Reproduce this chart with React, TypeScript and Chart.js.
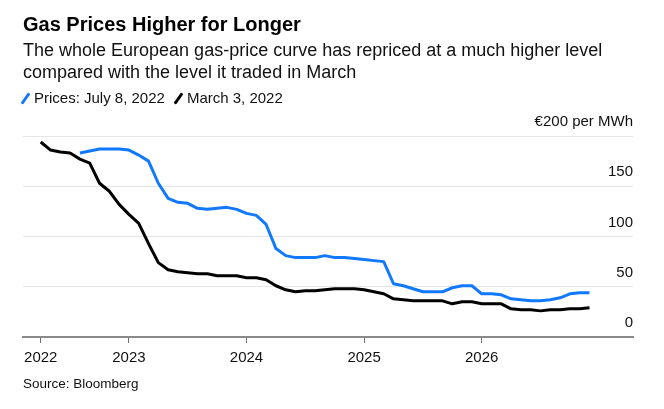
import React, { useEffect, useRef } from "react";
import { Chart, registerables } from "chart.js";

Chart.register(...registerables);

const FONT = "'Liberation Sans', Arial, Helvetica, sans-serif";

const TITLE = "Gas Prices Higher for Longer";
const SUBTITLE_LINES = [
  "The whole European gas-price curve has repriced at a much higher level",
  "compared with the level it traded in March",
];
const SOURCE = "Source: Bloomberg";

const JULY_LABEL = "Prices: July 8, 2022";
const MARCH_LABEL = "March 3, 2022";
const JULY_COLOR = "#1179ff";
const MARCH_COLOR = "#000000";

// Contract months (first month of each curve)
const MARCH_FIRST_MONTH = "2022-04";
const JULY_FIRST_MONTH = "2022-08";

// €/MWh, monthly
const MARCH_VALUES = [
  194, 186, 184, 183, 177, 173, 153, 145, 132, 122, 113, 93, 74, 67, 65, 64, 63, 63, 61, 61,
  61, 59, 59, 57, 51, 47, 45, 46, 46, 47, 48, 48, 48, 47, 45, 43, 38, 37, 36, 36, 36, 36, 33,
  35, 35, 33, 33, 33, 28, 27, 27, 26, 27, 27, 28, 28, 29,
];
const JULY_VALUES = [
  183, 185, 187, 187, 187, 186, 181, 175, 153, 138, 134, 133, 128, 127, 128, 129, 127, 123, 121,
  112, 88, 81, 79, 79, 79, 81, 79, 79, 78, 77, 76, 75, 53, 51, 48, 45, 45, 45, 49, 51, 51, 43,
  43, 42, 38, 37, 36, 36, 37, 39, 43, 44, 44,
];

const X_TICK_MONTHS = ["2022-04", "2023-01", "2024-01", "2025-01", "2026-01"];
const X_TICK_LABELS = ["2022", "2023", "2024", "2025", "2026"];
const X_RANGE_MONTHS = ["2022-02", "2027-04"];
const X_RANGE_OFFSETS = [0.19, 0.44];

const Y_TICKS = [0, 50, 100, 150, 200];
const Y_TOP_LABEL = "€200 per MWh";

const monthIndex = (s: string) => {
  const [y, m] = s.split("-").map(Number);
  return (y - 2022) * 12 + (m - 1);
};

const toPoints = (first: string, values: number[]) => {
  const start = monthIndex(first);
  return values.map((v, i) => ({ x: start + i, y: v }));
};

function Slash({ color }: { color: string }) {
  return (
    <span
      style={{
        display: "inline-block",
        width: 3,
        height: 13,
        background: color,
        transform: "rotate(35deg)",
        borderRadius: 1,
        margin: "0 7px 0 4px",
      }}
    />
  );
}

export default function App() {
  const canvasRef = useRef<HTMLCanvasElement>(null);

  useEffect(() => {
    const canvas = canvasRef.current;
    if (!canvas) return;
    const tickValues = X_TICK_MONTHS.map(monthIndex);
    const chart = new Chart(canvas, {
      type: "line",
      data: {
        datasets: [
          {
            label: JULY_LABEL,
            data: toPoints(JULY_FIRST_MONTH, JULY_VALUES),
            borderColor: JULY_COLOR,
            borderWidth: 3,
            pointRadius: 0,
            tension: 0,
            fill: false,
            borderJoinStyle: "round",
          },
          {
            label: MARCH_LABEL,
            data: toPoints(MARCH_FIRST_MONTH, MARCH_VALUES),
            borderColor: MARCH_COLOR,
            borderWidth: 3,
            pointRadius: 0,
            tension: 0,
            fill: false,
            borderJoinStyle: "round",
          },
        ],
      },
      options: {
        responsive: false,
        animation: false,
        layout: { padding: { left: 23, right: 31, top: 136, bottom: 36 } },
        plugins: {
          legend: { display: false },
          tooltip: { enabled: false },
          title: { display: false },
        },
        scales: {
          x: {
            type: "linear",
            min: monthIndex(X_RANGE_MONTHS[0]) + X_RANGE_OFFSETS[0],
            max: monthIndex(X_RANGE_MONTHS[1]) + X_RANGE_OFFSETS[1],
            grid: {
              display: true,
              drawOnChartArea: false,
              drawTicks: true,
              tickLength: 6,
              tickColor: "#6f6f6f",
              tickWidth: 1,
            },
            border: { display: true, color: "#8a8a8a", width: 2 },
            afterBuildTicks: (scale: any) => {
              scale.ticks = tickValues.map((v) => ({ value: v }));
            },
            ticks: {
              autoSkip: false,
              maxRotation: 0,
              padding: 6,
              color: "#111",
              font: { family: FONT, size: 15 },
              callback: (value: any) => {
                const i = tickValues.indexOf(Number(value));
                return i >= 0 ? X_TICK_LABELS[i] : "";
              },
            },
          },
          y: {
            position: "right",
            min: Y_TICKS[0],
            max: Y_TICKS[Y_TICKS.length - 1],
            grid: { color: "#e6e6e6", lineWidth: 1, drawTicks: false },
            border: { display: false },
            afterBuildTicks: (scale: any) => {
              scale.ticks = Y_TICKS.map((v) => ({ value: v }));
            },
            ticks: {
              mirror: true,
              padding: 0,
              labelOffset: -14,
              color: "#111",
              font: { family: FONT, size: 15 },
              callback: (value: any) =>
                Number(value) === Y_TICKS[Y_TICKS.length - 1] ? Y_TOP_LABEL : String(value),
            },
          },
        },
      },
    } as any);
    return () => chart.destroy();
  }, []);

  return (
    <div
      style={{
        position: "fixed",
        left: 0,
        top: 0,
        width: 664,
        height: 409,
        background: "#fff",
        fontFamily: FONT,
        color: "#000",
        overflow: "hidden",
      }}
    >
      <canvas
        ref={canvasRef}
        width={664}
        height={409}
        style={{ position: "absolute", left: 0, top: 0, width: 664, height: 409 }}
      />
      <div
        style={{
          position: "absolute",
          left: 23,
          top: 11,
          fontSize: 20,
          fontWeight: 700,
          lineHeight: "26px",
          whiteSpace: "nowrap",
        }}
      >
        {TITLE}
      </div>
      {SUBTITLE_LINES.map((line, i) => (
        <div
          key={i}
          style={{
            position: "absolute",
            left: 23,
            top: 39 + i * 22,
            fontSize: 18,
            lineHeight: "22px",
            color: "#111",
            whiteSpace: "nowrap",
          }}
        >
          {line}
        </div>
      ))}
      <div
        style={{
          position: "absolute",
          left: 20,
          top: 88,
          fontSize: 15,
          lineHeight: "20px",
          display: "flex",
          alignItems: "center",
          whiteSpace: "nowrap",
          color: "#111",
        }}
      >
        <Slash color={JULY_COLOR} />
        <span>{JULY_LABEL}</span>
        <span style={{ width: 8 }} />
        <Slash color={MARCH_COLOR} />
        <span>{MARCH_LABEL}</span>
      </div>
      <div
        style={{
          position: "absolute",
          left: 23,
          top: 374,
          fontSize: 13.5,
          lineHeight: "20px",
          color: "#111",
          whiteSpace: "nowrap",
        }}
      >
        {SOURCE}
      </div>
    </div>
  );
}
